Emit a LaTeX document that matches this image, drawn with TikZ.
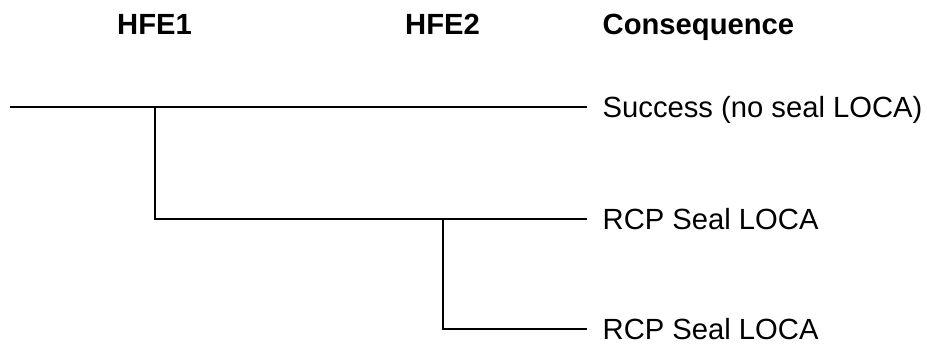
\documentclass[tikz,border=0pt]{standalone}
\usepackage{fontspec}
\setmainfont{Liberation Sans}
\begin{document}
\begin{tikzpicture}[x=1pt,y=-1pt,
  branch/.style={line width=2pt,line cap=rect},
  header/.style={font=\fontsize{29.2}{34}\selectfont\bfseries,inner sep=0pt,anchor=base},
  outcome/.style={font=\fontsize{29.2}{34}\selectfont,inner sep=0pt,anchor=base west}]
\useasboundingbox (0,0) rectangle (927,343);

% column headings
\node[header] (h1) at (154.5,34.5) {HFE1};
\node[header] (h2) at (442.5,34.5) {HFE2};
\node[header,anchor=base west] (h3) at (602.5,34.5) {Consequence};

% outcomes
\node[outcome] (c1) at (602.5,117) {Success (no seal LOCA)};
\node[outcome] (c2) at (602.5,229) {RCP Seal LOCA};
\node[outcome] (c3) at (602.5,339) {RCP Seal LOCA};

% branch points
\coordinate (start) at (11,107);
\coordinate (b1) at (154.5,107);
\coordinate (b1d) at (154.5,219);
\coordinate (b2) at (442.5,219);
\coordinate (b2d) at (442.5,329);
\coordinate (e1) at (586,107);
\coordinate (e2) at (586,219);
\coordinate (e3) at (586,329);

% event tree
\draw[branch] (start) -- (e1);
\draw[branch] (b1) -- (b1d) -- (e2);
\draw[branch] (b2) -- (b2d) -- (e3);
\end{tikzpicture}
\end{document}
